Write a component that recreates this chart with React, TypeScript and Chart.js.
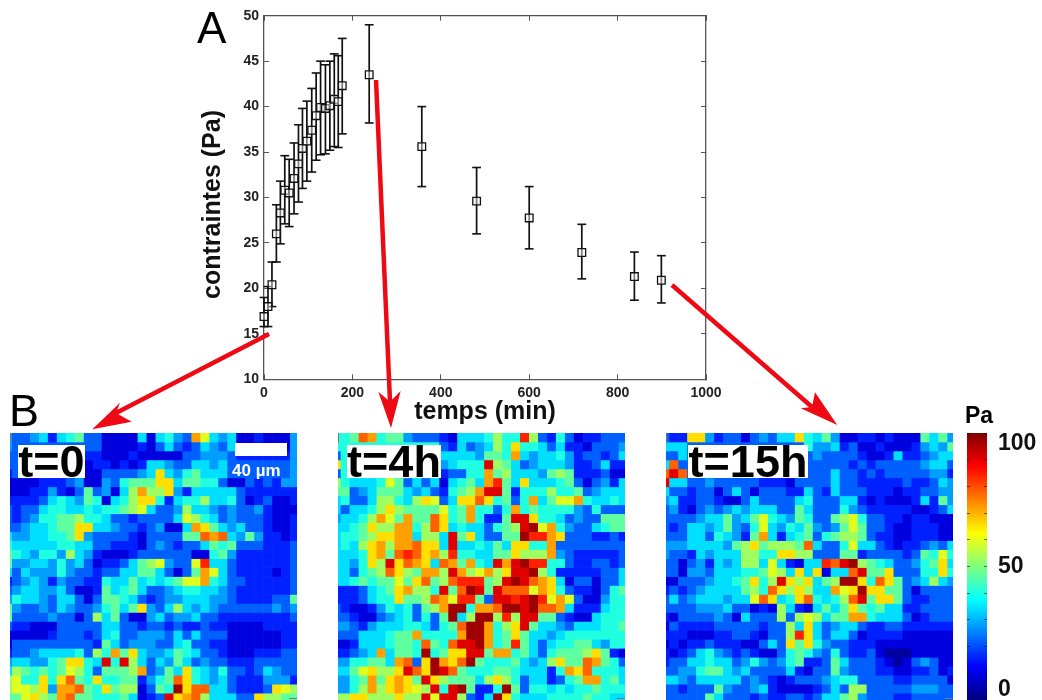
import React, { useEffect, useRef } from "react";
import { Chart, registerables } from "chart.js";

Chart.register(...registerables);

// ---- Panel A: stress against time ----
const timeMin = [0, 9, 18, 28, 37, 47, 57, 68, 78, 87, 97, 108, 118, 128, 139, 149, 159, 168, 177, 238, 357, 481, 600, 719, 838, 899];
const stressPa = [16.9, 18, 20.4, 26, 28.3, 30.8, 30.5, 32.1, 33.7, 35.4, 36.2, 37.4, 39, 39.9, 39.8, 40.1, 40.8, 40.55, 42.3, 43.5, 35.6, 29.6, 27.75, 23.95, 21.3, 20.9];
const errorHigh = [19, 20.2, 22.9, 29.2, 31.8, 34.6, 34.2, 36, 38, 39.8, 40.6, 42, 43.7, 45, 44.6, 45, 45.8, 45.6, 47.5, 49, 40, 33.3, 31.2, 27.05, 24, 23.6];
const errorLow = [15.8, 15.8, 18, 22.9, 24.9, 27.1, 26.8, 28.2, 29.5, 31, 31.8, 32.8, 34.1, 34.7, 34.8, 35.2, 35.6, 35.5, 37, 38.2, 31.2, 26, 24.35, 21.05, 18.7, 18.4];

// ---- Panel B: stress maps; each character is a level 0-f, one level = 6.25 Pa ----
const mapT0 = [
  "4334525673 3111151564 3b95451121 114",
  "4333333333 3111121353 2354351111 114",
  "3333333332 2111211111 3344432222 224",
  "3333333331 2212125543 3554533333 334",
  "2333333331 1333345a54 6755533333 334",
  "1111222341 1436777aa5 7766311323 244",
  "1112242137 34158b88a4 2555553222 222",
  "2222356547 61568aa625 6685563123 112",
  "3233566556 5667895334 8554343342 111",
  "3234667786 6533233335 9865343332 112",
  "33455677aa 5543323411 5ba7545332 112",
  "54455667a4 3333213333 77cbc54742 212",
  "6555556655 3322213432 3357673332 223",
  "7654664854 2111233333 3116742222 223",
  "7445546453 1223578943 39d5532222 223",
  "5354446433 2335577531 37b9532222 123",
  "2345424332 2655756567 99b6533222 223",
  "3455445311 2756753345 6655432222 223",
  "4655435531 3776532344 5554432222 337",
  "7433435433 46757a4358 5454333333 434",
  "7333343313 8573114534 4533222222 223",
  "3221113333 3553323323 2232211112 222",
  "1111123332 3563344435 3533311111 122",
  "1333333333 2753444335 6332211111 122",
  "2334555563 86b7a54457 6533211122 233",
  "4554467aa6 5e6e853547 5343322233 333",
  "5876767986 37778b3475 a654633235 433",
  "8966a6ac76 a66772467c a654532224 442",
  "8998a4bbc7 6a7881376f acc5532223 a98",
  "779a87bc77 66675123ea bc855533a8 877",
];
const mapT4 = [
  "667cb67743 3321555686 6d83263122 333",
  "6666666666 6632534586 a665352213 334",
  "3666666666 6655554776 b545564233 235",
  "a666666666 6645666e87 5345554223 522",
  "3666666666 6623366b78 5554787222 311",
  "8655569735 3515675bd7 5a55567313 425",
  "7734577754 532678bee7 2666866734 555",
  "5633588658 a935aaca67 36b5799b65 565",
  "535568a877 77967b6636 b676666436 333",
  "45568b97b7 7ca67b6227 eea6653433 777",
  "5567a88bb6 8ca5655367 8ef9b64335 677",
  "56678aabb5 885e7a5337 7fddba3332 232",
  "5658ab8bbc aa5e556575 aa66b33333 333",
  "5556ab7cdc ab8d665577 a888b43222 223",
  "5546a8eacb a5cb7b65eb efdd663223 323",
  "553678ca87 bb8eb89b8a eef8622222 335",
  "556767797a c78cddd78e fecba51331 335",
  "2223567ab8 86e7cfe7ec cc9ba63221 367",
  "2223566a77 8cb9dd73ee defd9b9311 466",
  "3211246563 78bff6bbcf fefccb5222 566",
  "3321134563 637f58ff8d 8ee7732115 666",
  "4432455566 5367cffb68 ae75543555 667",
  "333555677b 6666bffb67 a755456666 666",
  "1125556776 c76ceefb67 d753566775 466",
  "22345b5776 f67aaee7bb 675367778a 721",
  "4466775bc3 afbacf7666 75458a77cb 763",
  "5579a88aec afec766677 655526bac6 665",
  "4467b7aba7 ea877758a8 63552367bb 675",
  "4468b8aba9 8e6ef7226f 7366565667 666",
  "88aa888a88 e9ee8325fa 6555666676 655",
];
const mapT15 = [
  "322aa42331 34355a6574 1122121117 574",
  "5553333333 3333336445 2311211124 547",
  "3353333333 3333333433 3321125223 455",
  "5c33333333 3333333333 3232333334 553",
  "cec3333333 3333333335 3323233333 442",
  "e553343333 3222133335 3322222322 354",
  "5332331353 1333225325 3332221223 344",
  "4522332113 5333356333 5521211125 274",
  "3421343454 5553375333 6432222211 235",
  "3333455745 7965476337 8963322122 111",
  "3235545743 6954657434 7973321122 211",
  "3335536542 7b52567367 8873221122 211",
  "4445555478 a78887c533 6955321223 435",
  "4332545558 866aa88333 7723333237 696",
  "3313425458 85952155dc ef87653346 7a5",
  "3314435556 67985a5a15 5ce77a3336 6a6",
  "1133345567 a68ea8a578 ffa6ca7345 854",
  "2323455557 86ca8a855b 9afaa77313 333",
  "3534555455 9ca56ac656 8ce7aa7322 333",
  "3333444533 1218521575 7a76755223 333",
  "2133334315 3338389857 7bb6555312 333",
  "1322223333 323385a534 5532233222 222",
  "2221112233 21338da535 5312222111 111",
  "1212232221 1353a7a643 3222111111 111",
  "2123564323 2113676436 3223100011 111",
  "2335565534 6434672237 5333210134 311",
  "3344677545 3333521337 4333221122 312",
  "5543555553 4321233345 6633332233 331",
  "3323337433 4521111235 3883333344 433",
  "3333375333 2322332355 7843332233 333",
];
const colourbarLabels = ["0", "50", "100"];
const colourbarLabelPlaces = [4, 50, 96];

function jet(v: number): string {
  const t = Math.max(0, Math.min(1, v / 100));
  const c = (x: number) => Math.round(255 * Math.max(0, Math.min(1, 1.5 - Math.abs(4 * t - x))));
  return `rgb(${c(3)},${c(2)},${c(1)})`;
}

const levelToPa = (ch: string) => (parseInt(ch, 16) + 0.5) * 6.25;
const FONT = '"Liberation Sans", Arial, sans-serif';
const RED = "#ee0a14";

const redArrows = [
  { from: [269, 334], notch: [116, 413], tip: [92.3, 429.3], a: [120, 402.7], b: [131.7, 421.7] },
  { from: [376, 80], notch: [390, 401.7], tip: [391, 428], a: [378.3, 391.7], b: [400.7, 391] },
  { from: [672, 285], notch: [812, 407], tip: [837.3, 425], a: [815, 392.3], b: [800.7, 408.3] },
];

const arrowPlugin = {
  id: "redArrows",
  afterDraw(chart: any) {
    const ctx = chart.ctx;
    ctx.save();
    ctx.strokeStyle = RED;
    ctx.fillStyle = RED;
    ctx.lineWidth = 4.5;
    for (const ar of redArrows) {
      ctx.beginPath();
      ctx.moveTo(ar.from[0], ar.from[1]);
      ctx.lineTo(ar.notch[0], ar.notch[1]);
      ctx.stroke();
      ctx.beginPath();
      ctx.moveTo(ar.tip[0], ar.tip[1]);
      ctx.lineTo(ar.a[0], ar.a[1]);
      ctx.lineTo(ar.notch[0], ar.notch[1]);
      ctx.lineTo(ar.b[0], ar.b[1]);
      ctx.closePath();
      ctx.fill();
    }
    ctx.restore();
  },
};

const noScalePadding = (s: any) => {
  s.paddingTop = 0;
  s.paddingBottom = 0;
  s.paddingLeft = 0;
  s.paddingRight = 0;
};

function useMainChart(ref: React.RefObject<HTMLCanvasElement | null>) {
  useEffect(() => {
    if (!ref.current) return;
    const errorPoints: any[] = [];
    timeMin.forEach((t, i) => {
      errorPoints.push({ x: t, y: errorLow[i] }, { x: t, y: errorHigh[i] }, { x: t, y: null });
    });
    const markTicks = { drawOnChartArea: false, tickLength: -5, tickColor: "#555", tickWidth: 1 };
    const border = { color: "#555", width: 1.3 };
    const chart = new Chart(ref.current, {
      type: "scatter",
      data: {
        datasets: [
          {
            label: "contraintes",
            data: timeMin.map((t, i) => ({ x: t, y: stressPa[i] })),
            pointStyle: "rect",
            pointRadius: 5.4,
            pointBackgroundColor: "rgba(255,255,255,0.45)",
            pointBorderColor: "#111",
            pointBorderWidth: 1.3,
            showLine: false,
            clip: false,
          },
          {
            label: "erreur",
            data: errorPoints,
            showLine: true,
            spanGaps: false,
            borderColor: "#111",
            borderWidth: 1.7,
            pointStyle: "line",
            pointRadius: 4.4,
            pointBorderColor: "#111",
            pointBorderWidth: 1.6,
            clip: false,
          },
        ],
      } as any,
      options: {
        animation: false,
        responsive: false,
        events: [],
        layout: { autoPadding: false, padding: { left: 194, top: 15.7, right: 336, bottom: 273 } },
        plugins: { legend: { display: false }, tooltip: { enabled: false } },
        scales: {
          x: {
            type: "linear",
            min: 0,
            max: 1000,
            position: "bottom",
            border,
            grid: markTicks,
            afterFit: (s: any) => { s.height = 47.7; noScalePadding(s); },
            ticks: {
              stepSize: 200, maxRotation: 0, padding: 10, color: "#222",
              font: { family: FONT, size: 14, weight: "bold" },
              callback: (v: number) => String(v),
            },
            title: { display: true, text: "temps (min)", color: "#111", padding: 0, font: { family: FONT, size: 25, weight: "bold" } },
          },
          y: {
            type: "linear",
            min: 10,
            max: 50,
            position: "left",
            border,
            grid: markTicks,
            afterFit: (s: any) => { s.width = 70; noScalePadding(s); },
            ticks: { stepSize: 5, padding: 10, color: "#222", font: { family: FONT, size: 14, weight: "bold" } },
            title: { display: true, text: "contraintes (Pa)  ", color: "#111", padding: 4, font: { family: FONT, size: 25, weight: "bold" } },
          },
          xTop: {
            type: "linear",
            min: 0,
            max: 1000,
            position: "top",
            border,
            grid: markTicks,
            afterFit: (s: any) => { s.height = 0; noScalePadding(s); },
            ticks: { stepSize: 200, display: false },
          },
          yRight: {
            type: "linear",
            min: 10,
            max: 50,
            position: "right",
            border,
            grid: markTicks,
            afterFit: (s: any) => { s.width = 0; noScalePadding(s); },
            ticks: { stepSize: 5, display: false },
          },
        },
      } as any,
      plugins: [arrowPlugin],
    });
    return () => chart.destroy();
  }, []);
}

function HeatMap({ rows, left, firstCol }: { rows: string[]; left: number; firstCol: number }) {
  const ref = useRef<HTMLCanvasElement>(null);
  useEffect(() => {
    if (!ref.current) return;
    const cell = 8.97;
    const datasets = rows.map((row, r) => {
      const chars = row.replace(/\s/g, "").split("");
      return {
        data: chars.map((_, c) => ({ x: c + 0.5, y: [r, r + 1] })),
        backgroundColor: chars.map((ch) => jet(levelToPa(ch))),
        borderWidth: 0,
        barPercentage: 1,
        categoryPercentage: 1,
        grouped: false,
      };
    });
    const chart = new Chart(ref.current, {
      type: "bar",
      data: { datasets } as any,
      options: {
        animation: false,
        responsive: false,
        events: [],
        layout: { autoPadding: false },
        plugins: { legend: { display: false }, tooltip: { enabled: false } },
        scales: {
          x: { type: "linear", display: false, offset: false, min: firstCol, max: firstCol + 287 / cell },
          y: { type: "linear", display: false, reverse: true, min: 0, max: 267 / cell },
        },
      } as any,
    });
    return () => chart.destroy();
  }, []);
  return <canvas ref={ref} width={287} height={267} style={{ position: "absolute", left, top: 433, display: "block" }} />;
}

function ColourBar() {
  const ref = useRef<HTMLCanvasElement>(null);
  useEffect(() => {
    if (!ref.current) return;
    const inner = { drawOnChartArea: false, tickLength: -3, tickColor: "rgba(0,0,0,0.55)", z: 1 };
    const chart = new Chart(ref.current, {
      type: "bar",
      data: {
        labels: ["Pa"],
        datasets: [
          {
            data: [[0, 100]],
            borderWidth: 0,
            barPercentage: 1,
            categoryPercentage: 1,
            backgroundColor: (c: any) => {
              const area = c.chart.chartArea;
              if (!area) return "#000";
              const g = c.chart.ctx.createLinearGradient(0, area.bottom, 0, area.top);
              for (let i = 0; i <= 40; i++) g.addColorStop(i / 40, jet(i * 2.5));
              return g;
            },
          },
        ],
      } as any,
      options: {
        animation: false,
        responsive: false,
        events: [],
        layout: { autoPadding: false, padding: 0 },
        plugins: { legend: { display: false }, tooltip: { enabled: false } },
        scales: {
          x: { display: false, offset: true },
          y: {
            position: "right",
            min: 0,
            max: 100,
            border: { display: false },
            grid: { display: false, drawTicks: false },
            weight: 1,
            afterFit: (s: any) => { s.width = 55; noScalePadding(s); },
            afterBuildTicks: (s: any) => { s.ticks = colourbarLabelPlaces.map((value) => ({ value })); },
            ticks: {
              padding: 11,
              color: "#111",
              crossAlign: "near",
              font: { family: FONT, size: 23, weight: "bold" },
              callback: (_: any, i: number) => colourbarLabels[i],
            },
          },
          yL: {
            position: "left",
            min: 0,
            max: 100,
            border: { display: false },
            grid: inner,
            afterFit: (s: any) => { s.width = 0; noScalePadding(s); },
            ticks: { display: false, stepSize: 10 },
          },
          yR: {
            position: "right",
            min: 0,
            max: 100,
            weight: 0,
            border: { display: false },
            grid: inner,
            afterFit: (s: any) => { s.width = 0; noScalePadding(s); },
            ticks: { display: false, stepSize: 10 },
          },
        },
      } as any,
    });
    return () => chart.destroy();
  }, []);
  return <canvas ref={ref} width={75} height={267} style={{ position: "absolute", left: 967, top: 433, display: "block" }} />;
}

function Label({ x, y, w, h, text, size }: { x: number; y: number; w: number; h: number; text: string; size: number }) {
  return (
    <div
      style={{
        position: "absolute", left: x, top: y, width: w, height: h, background: "#fff",
        font: `bold ${size}px ${FONT}`, lineHeight: `${h}px`, color: "#000", textAlign: "center", whiteSpace: "nowrap",
      }}
    >
      {text}
    </div>
  );
}

function Plain({ x, y, text, size, bold, color }: { x: number; y: number; text: string; size: number; bold?: boolean; color?: string }) {
  return (
    <div
      style={{
        position: "absolute", left: x, top: y, color: color || "#111", whiteSpace: "nowrap", lineHeight: 1,
        font: `${bold ? "bold " : ""}${size}px ${FONT}`,
      }}
    >
      {text}
    </div>
  );
}

function CornerMarks({ left }: { left: number }) {
  return (
    <>
      <div style={{ position: "absolute", left, top: 433, width: 1, height: 10, background: "#777" }} />
      <div style={{ position: "absolute", left: left + 279, top: 698, width: 8, height: 1, background: "#777" }} />
    </>
  );
}

export default function App() {
  const mainRef = useRef<HTMLCanvasElement>(null);
  useMainChart(mainRef);
  return (
    <div style={{ position: "absolute", left: 0, top: 0, width: 1042, height: 700, overflow: "hidden", background: "#fff", filter: "blur(0.5px)" }}>
      <HeatMap rows={mapT0} left={10} firstCol={0.74} />
      <HeatMap rows={mapT4} left={338} firstCol={0.67} />
      <HeatMap rows={mapT15} left={666} firstCol={0.6} />
      <ColourBar />
      <canvas ref={mainRef} width={1042} height={700} style={{ position: "absolute", left: 0, top: 0, display: "block" }} />
      <CornerMarks left={10} />
      <CornerMarks left={338} />
      <CornerMarks left={666} />
      <Label x={18} y={445} w={67} h={33} text="t=0" size={45} />
      <Label x={347} y={445} w={94} h={33} text="t=4h" size={45} />
      <Label x={688} y={445} w={120} h={33} text="t=15h" size={45} />
      <div style={{ position: "absolute", left: 235, top: 443, width: 52, height: 13, background: "#fff" }} />
      <Plain x={232} y={461} text="40 µm" size={17} bold color="#fff" />
      <Plain x={197} y={3} text="A" size={44} color="#000" />
      <Plain x={9} y={385} text="B" size={45} color="#000" />
      <Plain x={965} y={402} text="Pa" size={23} bold color="#000" />
    </div>
  );
}
